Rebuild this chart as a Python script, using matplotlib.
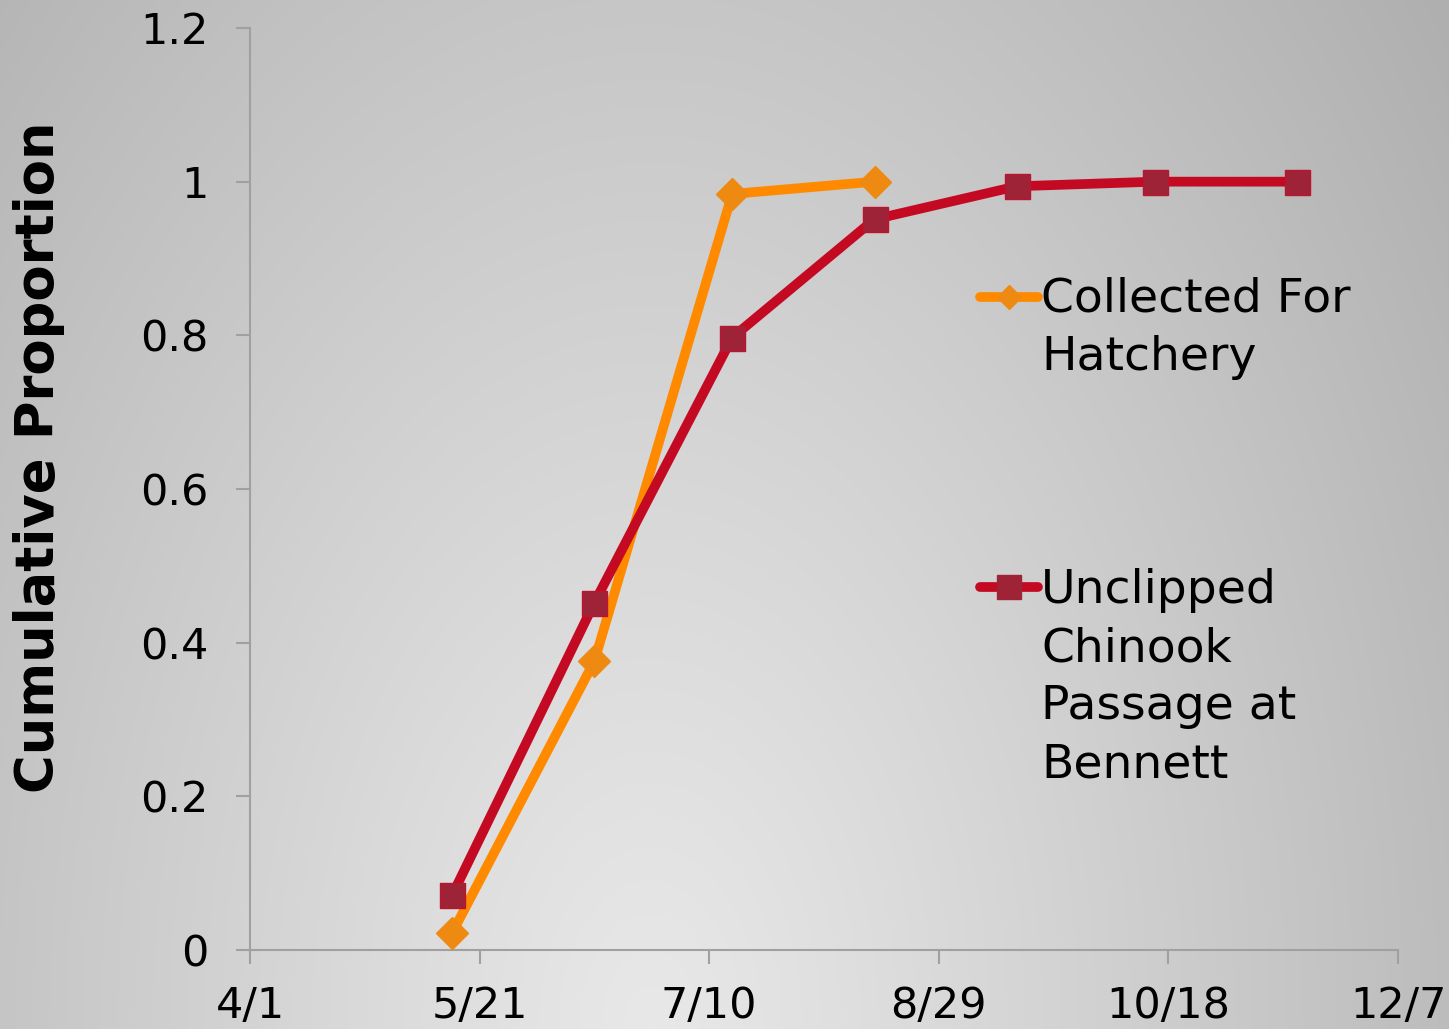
import numpy as np
import matplotlib
matplotlib.use("Agg")
import matplotlib.pyplot as plt
import datetime as dt

# ---- data ----
hatch_dates = ["2010-05-15", "2010-06-15", "2010-07-15", "2010-08-15"]
hatch_vals = [0.022, 0.376, 0.984, 1.0]
bennett_dates = ["2010-05-15", "2010-06-15", "2010-07-15", "2010-08-15",
                 "2010-09-15", "2010-10-15", "2010-11-15"]
bennett_vals = [0.071, 0.452, 0.797, 0.951, 0.994, 1.0, 1.0]
xtick_dates = ["2010-04-01", "2010-05-21", "2010-07-10", "2010-08-29",
               "2010-10-18", "2010-12-07"]
xtick_labels = ["4/1", "5/21", "7/10", "8/29", "10/18", "12/7"]
yticks = [0, 0.2, 0.4, 0.6, 0.8, 1.0, 1.2]
ytick_labels = ["0", "0.2", "0.4", "0.6", "0.8", "1", "1.2"]
labels = [["Collected For", "Hatchery"],
          ["Unclipped", "Chinook", "Passage at", "Bennett"]]

to_d = lambda s: dt.datetime.strptime(s, "%Y-%m-%d")
hx = [to_d(s) for s in hatch_dates]
bx = [to_d(s) for s in bennett_dates]
tx = [to_d(s) for s in xtick_dates]

W, H = 1449, 1029
fig = plt.figure(figsize=(W / 100, H / 100), dpi=100)

# background gradient
bg = fig.add_axes([0, 0, 1, 1], zorder=-10)
yy, xx = np.mgrid[0:H, 0:W]
t = np.sqrt(((xx - 650) / 800.0) ** 2 + ((yy - 1029) / 1300.0) ** 2)
t = np.clip(t, 0, 1.25)
c = 0.91 - (0.91 - 0.69) * (t / 1.25) ** 1.1
bg.imshow(np.dstack([c, c, c]), extent=[0, 1, 0, 1], aspect="auto", origin="upper")
bg.axis("off")

ax = fig.add_axes([250 / W, 1 - 950 / H, (1398 - 250) / W, (950 - 28) / H])
ax.set_facecolor("none")

orange_line = "#FF8A00"
orange_mark = "#EE8A12"
red_line = "#C40A22"
red_mark = "#9E2337"

ax.plot(hx, hatch_vals, color=orange_line, lw=7, zorder=3)
ax.plot(hx, hatch_vals, ls="none", marker="D", ms=16, color=orange_mark,
        mec=orange_mark, zorder=4)
ax.plot(bx, bennett_vals, color=red_line, lw=7, zorder=5)
ax.plot(bx, bennett_vals, ls="none", marker="s", ms=18, color=red_mark,
        mec="#B81530", mew=1, zorder=6)

ax.set_xlim(tx[0], tx[-1])
ax.set_ylim(0, 1.2)
ax.set_xticks(tx)
ax.set_xticklabels(xtick_labels)
ax.set_yticks(yticks)
ax.set_yticklabels(ytick_labels)

for s in ["top", "right"]:
    ax.spines[s].set_visible(False)
for s in ["left", "bottom"]:
    ax.spines[s].set_color("#a0a0a0")
    ax.spines[s].set_linewidth(1.5)
ax.tick_params(axis="both", direction="out", length=10, width=1.5,
               color="#a0a0a0", labelsize=31, labelcolor="black")
ax.tick_params(axis="y", pad=20)
ax.tick_params(axis="x", pad=15)

ax.set_ylabel("Cumulative Proportion", fontsize=38, fontweight="bold")
ax.yaxis.set_label_coords(-0.161, 0.534)

# manual legend
def legend_entry(y_handle, baselines, color_line, color_mark, marker, ms, lines):
    ax.plot([0.636, 0.686], [y_handle, y_handle], transform=ax.transAxes,
            color=color_line, lw=7, solid_capstyle="round", clip_on=False, zorder=7)
    ax.plot([0.661], [y_handle], transform=ax.transAxes, ls="none", marker=marker,
            ms=ms, color=color_mark, mec=color_mark, clip_on=False, zorder=8)
    for yb, line in zip(baselines, lines):
        ax.text(0.689, (950 - yb) / 922, line, transform=ax.transAxes, fontsize=34,
                va="baseline", ha="left")

legend_entry((950 - 297) / 922, [312, 370], orange_line, orange_mark, "D", 12, labels[0])
legend_entry((950 - 587) / 922, [603, 662, 719, 777], red_line, red_mark, "s", 17, labels[1])

fig.savefig("out.png", dpi=100)
